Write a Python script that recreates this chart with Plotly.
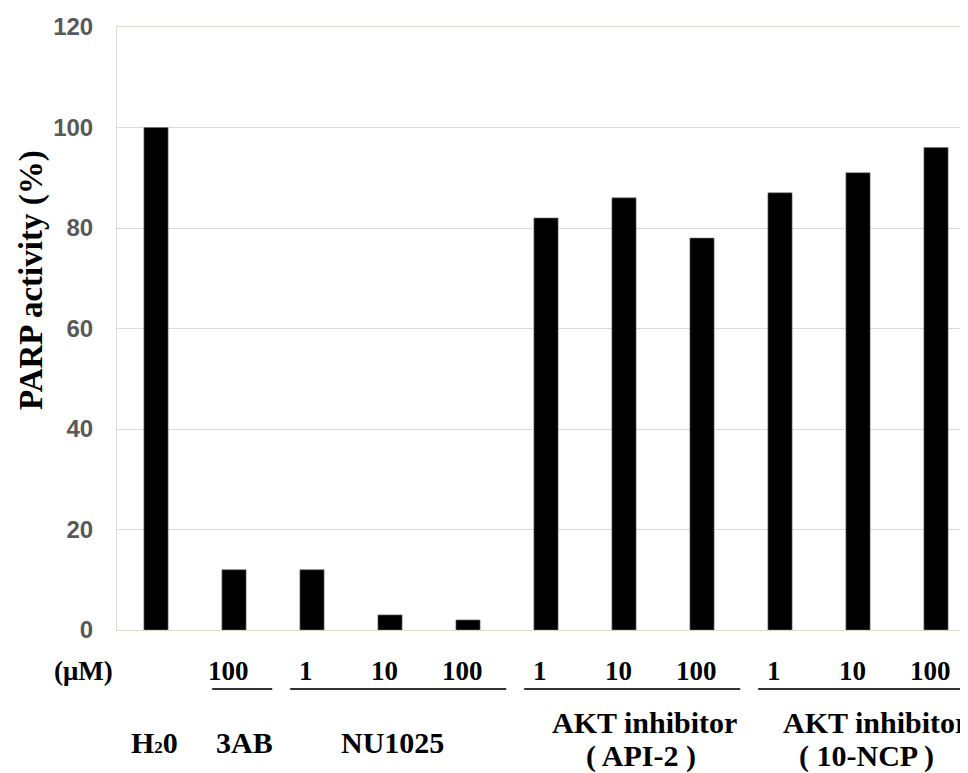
import plotly.graph_objects as go

# ---- data ----
groups = ["H2O", "3AB", "NU1025", "NU1025", "NU1025",
          "API-2", "API-2", "API-2", "10-NCP", "10-NCP", "10-NCP"]
doses = ["", "100", "1", "10", "100", "1", "10", "100", "1", "10", "100"]
values = [100, 12, 12, 3, 2, 82, 86, 78, 87, 91, 96]
group_labels = {
    "H2O": ["H<span style='font-size:17px'>2</span>0"],
    "3AB": ["3AB"],
    "NU1025": ["NU1025"],
    "API-2": ["AKT inhibitor", "( API-2 )"],
    "10-NCP": ["AKT inhibitor", "( 10-NCP )"],
}
underlined = ["3AB", "NU1025", "API-2", "10-NCP"]
y_ticks = [0, 20, 40, 60, 80, 100, 120]
y_title = "PARP activity (%)"
unit_label = "(\u03bcM)"

categories = [f"{g} {d}".strip() for g, d in zip(groups, doses)]

# page body has an 8px margin: build the figure 8px smaller and shifted
OFF = 8
REF_W, REF_H = 968, 773
REF_L, REF_T, REF_Y0 = 117, 27, 630
W, H = REF_W - OFF, REF_H - OFF
L, T = REF_L - OFF, REF_T - OFF
B = H - (REF_Y0 - OFF)
plot_w = W - L
plot_h = H - T - B
cat_px = 78.0
x_range = [-0.5, -0.5 + plot_w / cat_px]

def py2paper(py):  # reference pixel y -> paper
    return (REF_Y0 - py) / plot_h

def px2paper(px):  # reference pixel x -> paper
    return (px - REF_L) / plot_w

serif = "Liberation Serif"
sans = "Liberation Sans"

# label nudges (pixels) for group names: (line1, line2)
label_shift = {"H2O": (-2, 0), "3AB": (10, 0), "NU1025": (2, 0),
               "API-2": (20, 17), "10-NCP": (17, 8)}

fig = go.Figure()
fig.add_trace(go.Bar(
    x=categories, y=values, width=0.31,
    marker=dict(color="black", line=dict(color="#777777", width=0.6)),
    showlegend=False,
))

annotations = []
shapes = []

# dose labels
for i, d in enumerate(doses):
    if d:
        annotations.append(dict(
            x=i, y=py2paper(671), xref="x", yref="paper", text=f"<b>{d}</b>",
            showarrow=False, xanchor="center", yanchor="middle", xshift=-6,
            font=dict(family=serif, size=27, color="black")))

annotations.append(dict(
    x=px2paper(83), y=py2paper(671), xref="paper", yref="paper",
    text=f"<b>{unit_label}</b>", showarrow=False, xanchor="center", yanchor="middle",
    font=dict(family=serif, size=27, color="black")))

# group labels and underlines
seen = []
for g in groups:
    if g not in seen:
        seen.append(g)
for g in seen:
    idx = [i for i, gg in enumerate(groups) if gg == g]
    first, last = idx[0], idx[-1]
    center = (first + last) / 2
    lines = group_labels[g]
    s1, s2 = label_shift[g]
    if len(lines) == 1:
        annotations.append(dict(
            x=center, y=py2paper(742), xref="x", yref="paper", text=f"<b>{lines[0]}</b>",
            showarrow=False, xanchor="center", yanchor="middle", xshift=s1,
            font=dict(family=serif, size=30, color="black")))
    else:
        annotations.append(dict(
            x=center, y=py2paper(722), xref="x", yref="paper", text=f"<b>{lines[0]}</b>",
            showarrow=False, xanchor="center", yanchor="middle", xshift=s1,
            font=dict(family=serif, size=30, color="black")))
        annotations.append(dict(
            x=center, y=py2paper(756), xref="x", yref="paper", text=f"<b>{lines[1]}</b>",
            showarrow=False, xanchor="center", yanchor="middle", xshift=s2,
            font=dict(family=serif, size=30, color="black")))
    if g in underlined:
        shapes.append(dict(
            type="line", xref="x", yref="paper",
            x0=first - 0.28, x1=last + 0.49, y0=py2paper(689), y1=py2paper(689),
            line=dict(color="#333333", width=2)))

# y-axis title
annotations.append(dict(
    x=px2paper(31), y=py2paper(280), xref="paper", yref="paper",
    text=f"<b>{y_title}</b>", textangle=-90, showarrow=False,
    xanchor="center", yanchor="middle",
    font=dict(family=serif, size=33, color="black")))

fig.update_layout(
    width=W, height=H,
    margin=dict(l=L, r=0, t=T, b=B, pad=0),
    paper_bgcolor="white", plot_bgcolor="white",
    annotations=annotations, shapes=shapes,
)
fig.update_xaxes(
    range=x_range, showticklabels=False, ticks="", showgrid=False,
    showline=True, linecolor="#d6dccf", linewidth=1, mirror=True, zeroline=False,
)
fig.update_yaxes(
    range=[0, 120], tickvals=y_ticks, showgrid=True, gridcolor="#d9d9d9", gridwidth=1,
    showline=True, linecolor="#d6dccf", linewidth=1, mirror=False, zeroline=False,
    ticks="", ticklabelstandoff=18,
    tickfont=dict(family=sans, size=24, color="#595959", weight="bold"),
)

fig.write_html("out.html")
